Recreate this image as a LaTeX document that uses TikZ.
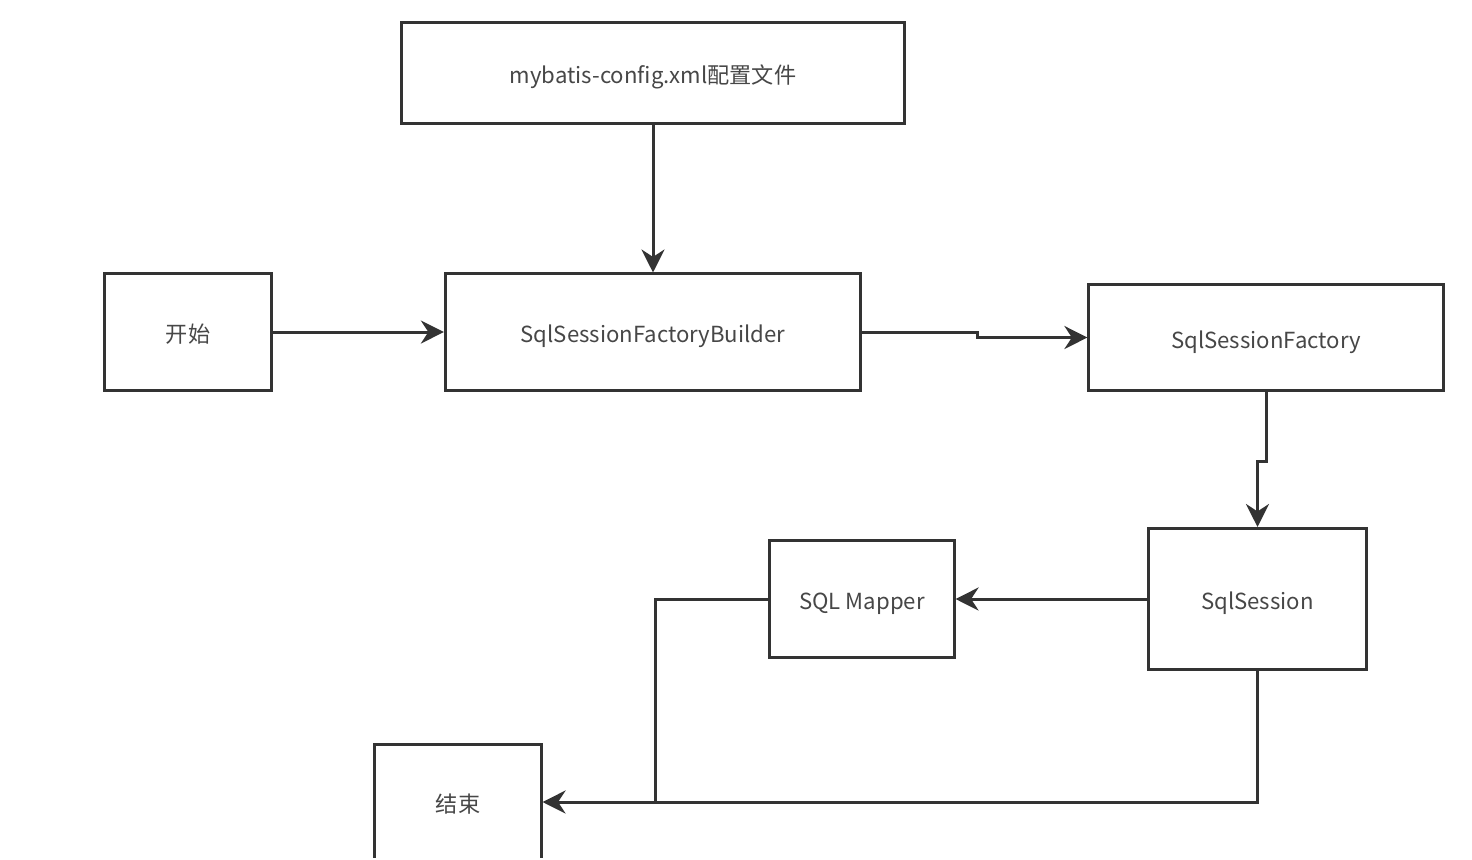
\documentclass[tikz,border=0pt]{standalone}
\usepackage{fontspec}
\setmainfont{Noto Sans CJK SC}
\usepackage{xcolor}
\usetikzlibrary{arrows.meta, positioning}
\definecolor{ink}{HTML}{333333}
\definecolor{txt}{HTML}{474747}
\tikzset{
  font=\fontsize{6.3}{8}\selectfont,
  >={Stealth[length=2.3mm, width=2.3mm]},
  %
  box/.style={draw=ink, line width=0.85pt, fill=white, text=txt,
              inner sep=0pt, align=center, text height=2.4mm, text depth=0.3mm},
  %
  flow/.style={draw=ink, line width=0.85pt, ->},
  link/.style={draw=ink, line width=0.85pt},
}
\begin{document}
\begin{tikzpicture}[x=0.01cm, y=-0.01cm]

  \useasboundingbox (0,0) rectangle (1472,859);
  \clip (0,0) rectangle (1472,857);
  \fill[white] (0,0) rectangle (1472,859);

  \node[box, minimum width=5.02cm, minimum height=1.00cm] (cfg) at (653,73)      {mybatis-config.xml配置文件};
  \node[box, minimum width=1.66cm, minimum height=1.16cm] (start) at (188,332)   {开始};
  \node[box, minimum width=4.15cm, minimum height=1.16cm] (bld) at (653,332)     {SqlSessionFactoryBuilder};
  \node[box, minimum width=3.54cm, minimum height=1.05cm] (fac) at (1266,337.5)  {SqlSessionFactory};
  \node[box, minimum width=2.17cm, minimum height=1.41cm] (ses) at (1257.5,599)  {SqlSession};
  \node[box, minimum width=1.84cm, minimum height=1.16cm] (map) at (862,599)     {SQL Mapper};
  \node[box, minimum width=1.66cm, minimum height=1.14cm] (end) at (458,802)     {结束};

  \coordinate (join) at (655,802);

  \draw[flow] (cfg) -- (bld);
  \draw[flow] (start) -- (bld);
  \draw[flow] (bld.east) -- ++(115,0) |- (fac.west);
  \draw[flow] (fac.south) -- ++(0,70) -| (ses.north);
  \draw[flow] (ses.west) -- (map.east);
  \draw[link] (map.west) -| (join);
  \draw[flow] (ses.south) |- (end.east);

\end{tikzpicture}
\end{document}
